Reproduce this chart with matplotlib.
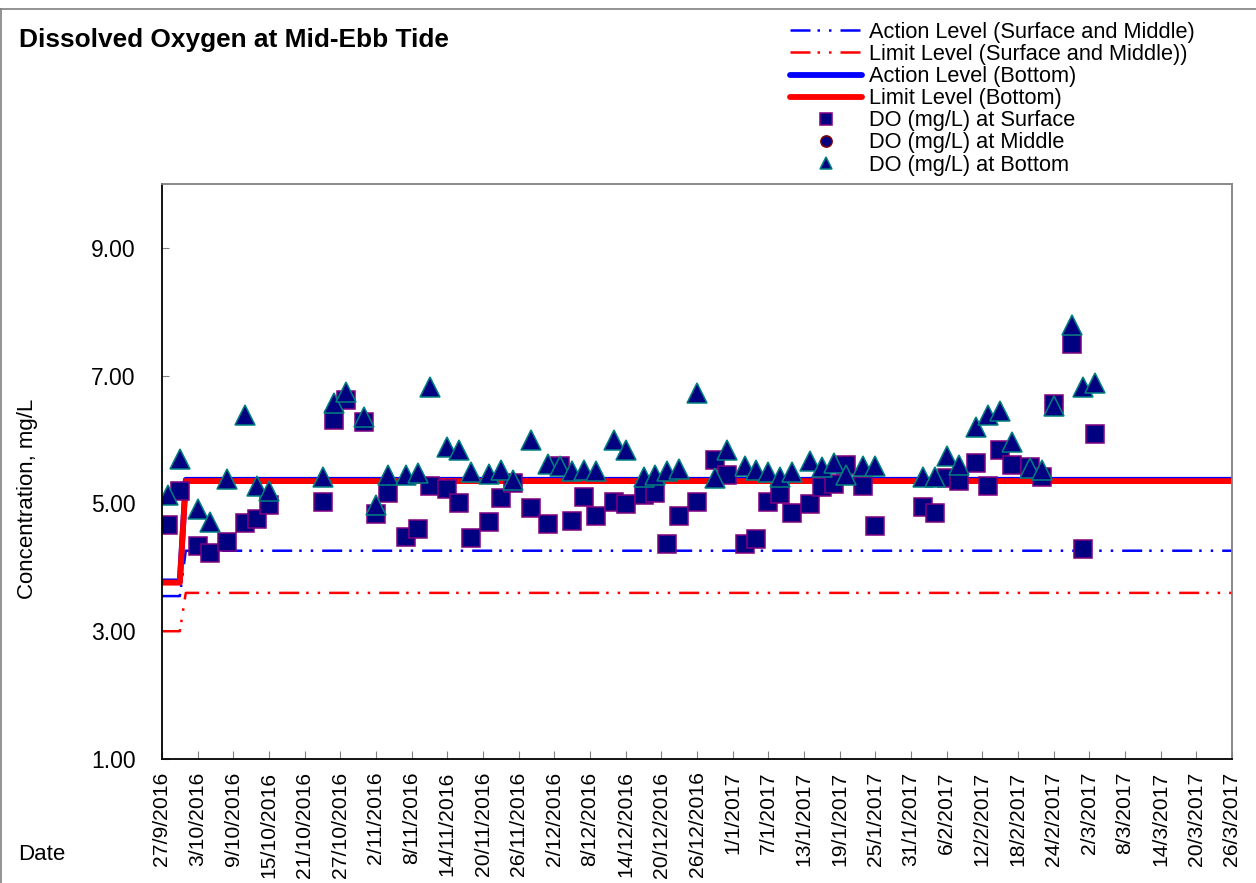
import matplotlib
matplotlib.use("Agg")
import matplotlib.pyplot as plt
from matplotlib.lines import Line2D
import pandas as pd

plt.rcParams['font.family'] = ['Liberation Sans', 'DejaVu Sans']

# sampling dates and dissolved oxygen readings (mg/L)
sample_dates = [
    "28/9/2016", "30/9/2016", "3/10/2016", "5/10/2016", "8/10/2016", "11/10/2016",
    "13/10/2016", "15/10/2016", "24/10/2016", "26/10/2016", "28/10/2016", "31/10/2016",
    "2/11/2016", "4/11/2016", "7/11/2016", "9/11/2016", "11/11/2016", "14/11/2016",
    "16/11/2016", "18/11/2016", "21/11/2016", "23/11/2016", "25/11/2016", "28/11/2016",
    "1/12/2016", "3/12/2016", "5/12/2016", "7/12/2016", "9/12/2016", "12/12/2016",
    "14/12/2016", "17/12/2016", "19/12/2016", "21/12/2016", "23/12/2016", "26/12/2016",
    "29/12/2016", "31/12/2016", "3/1/2017", "5/1/2017", "7/1/2017", "9/1/2017",
    "11/1/2017", "14/1/2017", "16/1/2017", "18/1/2017", "20/1/2017", "23/1/2017",
    "25/1/2017", "2/2/2017", "4/2/2017", "6/2/2017", "8/2/2017", "11/2/2017",
    "13/2/2017", "15/2/2017", "17/2/2017", "20/2/2017", "22/2/2017", "24/2/2017",
    "27/2/2017", "1/3/2017", "3/3/2017",
]

do_surface = [
    4.67, 5.19, 4.33, 4.23, 4.39, 4.69, 4.76, 4.97,
    5.03, 6.31, 6.62, 6.27, 4.84, 5.16, 4.47, 4.60, 5.27,
    5.22, 5.01, 4.46, 4.71, 5.08, 5.32, 4.93, 4.68, 5.58, 4.73, 5.10, 4.80,
    5.02, 4.99, 5.14, 5.17, 4.37, 4.80, 5.02, 5.68, 5.44,
    4.37, 4.45, 5.03, 5.15, 4.85, 4.99, 5.25, 5.30, 5.60, 5.28, 4.64,
    4.95, 4.85, 5.40, 5.35, 5.63, 5.28, 5.84, 5.60, 5.57, 5.41, 6.55, 7.49, 4.28, 6.08,
]

do_middle = []

do_bottom = [
    5.14, 5.70, 4.92, 4.71, 5.39, 6.39, 5.27, 5.20,
    5.42, 6.58, 6.75, 6.36, 4.98, 5.45, 5.45, 5.47, 6.83,
    5.89, 5.84, 5.50, 5.46, 5.53, 5.36, 6.00, 5.61, 5.59, 5.51, 5.53, 5.51,
    6.00, 5.83, 5.41, 5.45, 5.51, 5.54, 6.73, 5.40, 5.84,
    5.59, 5.52, 5.50, 5.42, 5.50, 5.67, 5.57, 5.63, 5.45, 5.59, 5.58,
    5.42, 5.42, 5.74, 5.60, 6.20, 6.38, 6.44, 5.96, 5.55, 5.53, 6.53, 7.79, 6.82, 6.89,
]

# action / limit levels (change after the baseline period)
level_dates = ["27/9/2016", "30/9/2016", "1/10/2016", "26/3/2017"]
action_sm = [3.55, 3.55, 4.26, 4.26]
limit_sm = [3.00, 3.00, 3.60, 3.60]
action_bottom = [3.78, 3.78, 5.37, 5.37]
limit_bottom = [3.76, 3.76, 5.35, 5.35]

x_start, x_end = "27/9/2016", "26/3/2017"

to_dt = lambda s: pd.to_datetime(s, format="%d/%m/%Y")
xs = to_dt(sample_dates)
xl = to_dt(level_dates)

fig = plt.figure(figsize=(12.56, 8.83), dpi=100)
ax = fig.add_axes([162 / 1256, 1 - 759 / 883, (1232 - 162) / 1256, (759 - 184) / 883])

dashdotdot = (0, (8, 2.8, 1, 3.6, 1, 3.6))
ax.plot(xl, action_sm, color="#0000ff", lw=1.8, ls=dashdotdot,
        label="Action Level (Surface and Middle)")
ax.plot(xl, limit_sm, color="#ff0000", lw=1.8, ls=dashdotdot,
        label="Limit Level (Surface and Middle))")
ax.plot(xl, action_bottom, color="#0000ff", lw=4.2, solid_capstyle="round",
        label="Action Level (Bottom)")
ax.plot(xl, limit_bottom, color="#ff0000", lw=4.2, solid_capstyle="round",
        label="Limit Level (Bottom)")

ax.plot(xs, do_surface, ls="none", marker="s", ms=13.5, mfc="#000080", mec="#800080",
        mew=1.1, label="DO (mg/L) at Surface")
ax.plot(to_dt(do_middle), do_middle, ls="none", marker="o", ms=13.5, mfc="#000080",
        mec="#800000", mew=1.1, label="DO (mg/L) at Middle")
ax.plot(xs, do_bottom, ls="none", marker="^", ms=14, mfc="#000080", mec="#008080",
        mew=1.1, label="DO (mg/L) at Bottom")

ax.set_xlim(to_dt(x_start), to_dt(x_end))
ax.set_ylim(1, 10)
ax.set_yticks([1, 3, 5, 7, 9])
ax.yaxis.set_major_formatter(matplotlib.ticker.FormatStrFormatter("%.2f"))

ticks = pd.date_range(to_dt(x_start), to_dt(x_end), freq="6D")
ax.set_xticks(ticks)
ax.set_xticklabels([f"{d.day}/{d.month}/{d.year}" for d in ticks], rotation=90,
                   va="top", ha="center")

ax.tick_params(axis="y", direction="in", length=5, color="#808080", labelsize=16.5, pad=19)
ax.tick_params(axis="x", direction="in", length=6, color="#808080", labelsize=15.2, pad=9)

for side in ["left", "bottom"]:
    ax.spines[side].set_color("black")
    ax.spines[side].set_linewidth(1.3)
for side in ["top", "right"]:
    ax.spines[side].set_color("#808080")
    ax.spines[side].set_linewidth(1.3)

fig.text(19 / 1256, 1 - 40 / 883, "Dissolved Oxygen at Mid-Ebb Tide", fontsize=18.9,
         fontweight="bold", va="center", ha="left")
fig.text(27.5 / 1256, 1 - 499 / 883, "Concentration, mg/L", fontsize=16, rotation=90,
         va="center", ha="center")
fig.text(18 / 1256, 1 - 855 / 883, "Date", fontsize=16, va="center", ha="left")

fig.legend(loc="upper left", bbox_to_anchor=(790 / 1256, 1 - 22 / 883), frameon=False,
           fontsize=15.7, handlelength=3.3, handletextpad=0.32, labelspacing=0.05,
           borderpad=0, borderaxespad=0, markerscale=0.6, numpoints=1)

# chart frame
fig.add_artist(Line2D([0, 1], [1 - 9 / 883, 1 - 9 / 883], transform=fig.transFigure,
                      color="#808080", lw=1.2))
fig.add_artist(Line2D([1 / 1256, 1 / 1256], [0, 1 - 9 / 883], transform=fig.transFigure,
                      color="#808080", lw=1.2))

fig.savefig("out.png", dpi=100)
